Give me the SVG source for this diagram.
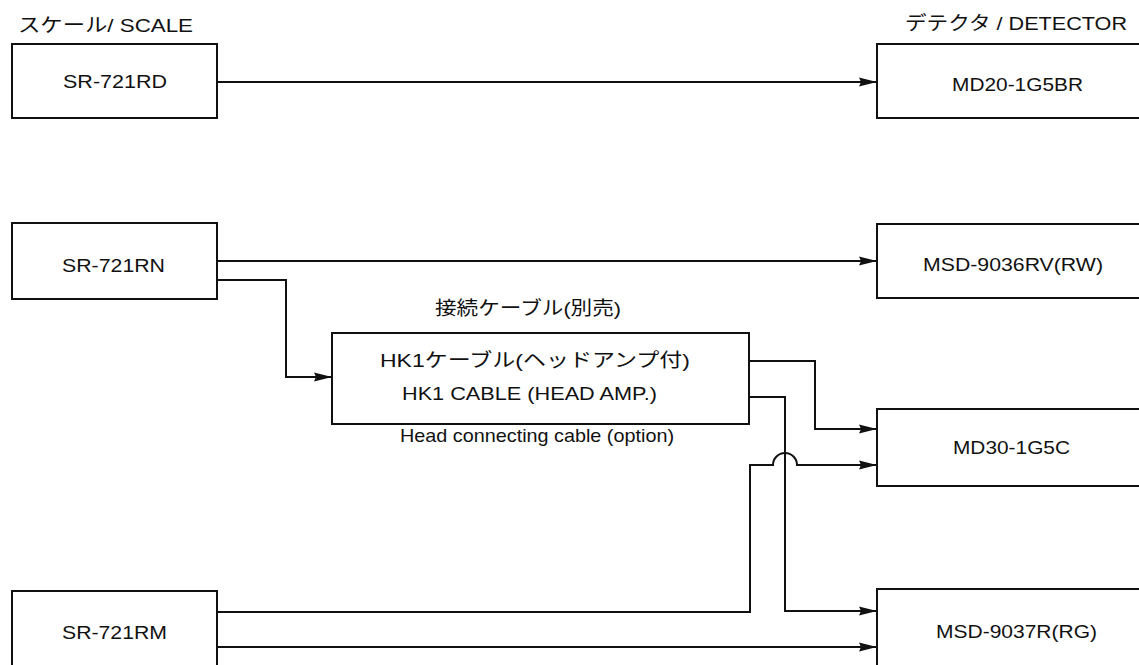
<svg xmlns="http://www.w3.org/2000/svg" width="1139" height="665" viewBox="0 0 1139 665">
<style>
  .box { fill: #fff; stroke: #111; stroke-width: 2; }
  .t { font-family: "Liberation Sans", "Noto Sans CJK JP", sans-serif; font-size: 19px; fill: #111; }
  .c { fill: none; stroke: #111; stroke-width: 2; }
</style>
<defs>
  <marker id="arr" markerUnits="userSpaceOnUse" markerWidth="20" markerHeight="12" refX="18" refY="5" orient="auto">
    <path d="M0,0.5 L18,5 L0,9.5 L2,5 z" fill="#111"/>
  </marker>
</defs>
<rect width="1139" height="665" fill="#fff"/>
<g id="headers">
  <text class="t" x="18" y="32" textLength="175" lengthAdjust="spacingAndGlyphs">スケール/ SCALE</text>
  <text class="t" x="905" y="30" textLength="222" lengthAdjust="spacingAndGlyphs">デテクタ / DETECTOR</text>
</g>
<g id="connectors">
  <path class="c" d="M217,82 H877" marker-end="url(#arr)"/>
  <path class="c" d="M217,261 H877" marker-end="url(#arr)"/>
  <path class="c" d="M217,280 H286 V377 H332" marker-end="url(#arr)"/>
  <path class="c" d="M749,361 H815 V429 H877" marker-end="url(#arr)"/>
  <path class="c" d="M749,397 H785 V611 H877" marker-end="url(#arr)"/>
  <path class="c" d="M217,612 H750 V465 H773 A12,12 0 0 1 797,465 H877" marker-end="url(#arr)"/>
  <path class="c" d="M217,647 H877" marker-end="url(#arr)"/>
</g>
<g id="sr721rd">
  <rect class="box" x="12" y="44" width="205" height="74"/>
  <text class="t" x="63" y="88" textLength="104" lengthAdjust="spacingAndGlyphs">SR-721RD</text>
</g>
<g id="sr721rn">
  <rect class="box" x="12" y="223" width="205" height="76"/>
  <text class="t" x="62" y="272" textLength="103" lengthAdjust="spacingAndGlyphs">SR-721RN</text>
</g>
<g id="sr721rm">
  <rect class="box" x="12" y="591" width="205" height="90"/>
  <text class="t" x="62" y="639" textLength="105" lengthAdjust="spacingAndGlyphs">SR-721RM</text>
</g>
<g id="hk1">
  <text class="t" x="435" y="315" textLength="186" lengthAdjust="spacingAndGlyphs">接続ケーブル(別売)</text>
  <rect class="box" x="332" y="333" width="417" height="91"/>
  <text class="t" x="380" y="367" textLength="310" lengthAdjust="spacingAndGlyphs">HK1ケーブル(ヘッドアンプ付)</text>
  <text class="t" x="402" y="400" textLength="255" lengthAdjust="spacingAndGlyphs">HK1 CABLE (HEAD AMP.)</text>
  <text class="t" x="400" y="442" textLength="274" lengthAdjust="spacingAndGlyphs">Head connecting cable (option)</text>
</g>
<g id="md20">
  <rect class="box" x="877" y="44" width="280" height="74"/>
  <text class="t" x="952" y="91" textLength="131" lengthAdjust="spacingAndGlyphs">MD20-1G5BR</text>
</g>
<g id="msd9036">
  <rect class="box" x="877" y="224" width="280" height="74"/>
  <text class="t" x="923" y="271" textLength="180" lengthAdjust="spacingAndGlyphs">MSD-9036RV(RW)</text>
</g>
<g id="md30">
  <rect class="box" x="877" y="409" width="280" height="77"/>
  <text class="t" x="953" y="454" textLength="117" lengthAdjust="spacingAndGlyphs">MD30-1G5C</text>
</g>
<g id="msd9037">
  <rect class="box" x="877" y="589" width="280" height="90"/>
  <text class="t" x="936" y="638" textLength="161" lengthAdjust="spacingAndGlyphs">MSD-9037R(RG)</text>
</g>
</svg>
